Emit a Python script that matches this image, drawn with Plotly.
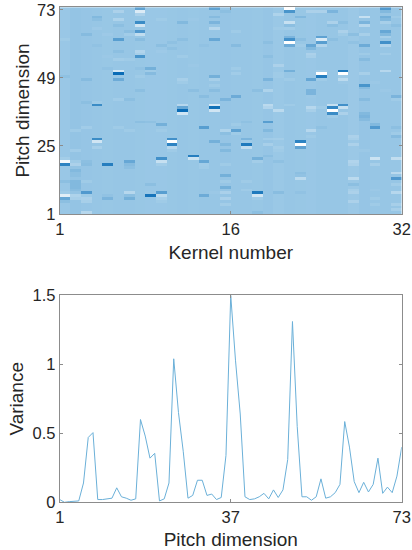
import plotly.graph_objects as go

pitch_ticks = [1, 25, 49, 73]
kernel_tick_edges = [0, 16, 32]
kernel_tick_labels = ["1", "16", "32"]
variance_pitch_ticks = [1, 37, 73]
variance_ticks = [0, 0.5, 1, 1.5]
variance_tick_labels = ["0", "0.5", "1", "1.5"]

variance = [0.02, 0.0, 0.005, 0.005, 0.01, 0.14, 0.47, 0.505, 0.02, 0.02, 0.025, 0.03, 0.105,
            0.04, 0.03, 0.015, 0.025, 0.60, 0.48, 0.32, 0.355, 0.01, 0.025, 0.14, 1.04, 0.65,
            0.37, 0.03, 0.05, 0.16, 0.16, 0.05, 0.06, 0.02, 0.035, 0.34, 1.5, 1.03, 0.64, 0.04,
            0.02, 0.025, 0.04, 0.065, 0.025, 0.09, 0.035, 0.09, 0.31, 1.31, 0.55, 0.04, 0.04,
            0.015, 0.04, 0.17, 0.03, 0.04, 0.07, 0.13, 0.585, 0.40, 0.15, 0.07, 0.145, 0.075,
            0.13, 0.32, 0.065, 0.11, 0.07, 0.19, 0.40]

# per-kernel level of most cells: negative is darker blue, positive paler
kernel_levels = [0.02, -0.02, -0.01, 0.0, 0.01, 0.0, 0.0, 0.01, 0.02, 0.02, 0.01, 0.0, 0.01, 0.0, 0.0, -0.01,
                 0.0, 0.0, 0.01, -0.01, 0.03, 0.0, 0.01, 0.02, 0.0, 0.0, 0.0, 0.04, -0.01, 0.0, 0.0, 0.0]

# {pitch: value} for each kernel, wherever a cell differs visibly from the level
kernel_01 = {19: 0.9, 18: -0.75, 20: 0.12, 7: 0.7, 6: -0.35, 8: 0.08, 5: -0.08, 12: -0.08, 49: -0.06, 62: 0.08}
kernel_02 = {18: 0.2, 19: 0.08, 16: -0.15, 15: -0.08, 14: -0.08, 12: -0.15, 11: -0.15, 10: -0.15, 9: -0.1, 7: 0.22, 6: 0.15, 23: 0.1, 30: 0.08}
kernel_03 = {8: -0.5, 7: 0.08, 6: 0.2, 5: 0.15, 1: 0.3, 18: -0.1, 19: -0.08, 64: -0.12, 31: 0.1, 12: 0.08, 48: -0.12, 40: -0.08}
kernel_04 = {39: -0.65, 27: -0.65, 26: 0.55, 24: 0.15, 70: -0.15, 69: -0.08, 66: 0.06, 60: -0.04, 40: 0.08}
kernel_05 = {18: -0.8, 6: -0.2, 7: -0.04, 64: 0.06, 52: -0.04, 56: 0.04}
kernel_06 = {72: 0.2, 69: 0.22, 67: -0.08, 62: -0.45, 58: -0.08, 51: 0.6, 50: -1.0, 48: -0.3, 55: 0.12, 41: 0.1, 31: 0.08}
kernel_07 = {19: -0.35, 18: -0.12, 17: -0.08, 8: 0.3, 7: -0.08, 6: -0.25, 64: 0.1, 65: -0.08, 55: 0.08, 30: 0.08, 41: -0.08}
kernel_08 = {73: -0.4, 72: 0.65, 71: 0.2, 68: -0.65, 67: 0.55, 65: -0.5, 64: 0.4, 62: -0.1, 58: 0.25, 57: 0.15, 56: -0.55, 52: -0.04, 49: 0.08, 44: -0.08, 33: -0.08}
kernel_09 = {52: -0.25, 51: 0.08, 50: -0.12, 7: -0.9, 8: 0.04, 33: -0.06, 11: -0.08}
kernel_10 = {32: -0.25, 30: 0.08, 20: -0.6, 19: 0.45, 18: 0.12, 8: -0.45, 7: 0.35, 6: 0.15, 5: 0.08, 60: -0.08, 58: 0.06, 69: 0.08}
kernel_11 = {27: -0.6, 26: 0.98, 25: -0.75, 24: 0.3, 23: 0.08, 61: -0.06, 59: -0.06}
kernel_12 = {68: -0.15, 62: -0.08, 48: 0.15, 47: 0.08, 39: 0.3, 38: -0.35, 37: -1.0, 36: 0.55, 56: 0.08}
kernel_13 = {21: -0.8, 20: 0.5, 44: -0.08, 53: 0.04, 69: 0.04}
kernel_14 = {31: -0.45, 19: -0.35, 18: 0.1, 17: 0.08, 7: -0.3, 42: -0.1, 60: -0.04}
kernel_15 = {73: -0.4, 70: -0.12, 68: -0.2, 66: 0.3, 62: -0.35, 49: -0.25, 48: 0.15, 46: 0.08, 44: -0.1, 39: 0.6, 38: -0.95, 37: 0.55, 26: -0.25, 8: 0.04}
kernel_16 = {41: -0.2, 72: -0.08, 30: 0.22, 29: -0.08, 25: -0.15, 23: -0.15, 18: 0.08, 14: -0.25, 12: 0.08, 10: -0.25, 8: 0.18, 6: 0.18, 4: 0.12}
kernel_17 = {42: -0.3, 30: -0.4, 29: 0.08, 32: 0.08, 65: 0.08, 60: -0.12, 52: 0.08, 50: 0.1}
kernel_18 = {25: -0.85, 24: 0.4, 27: -0.2, 26: 0.08, 33: -0.06, 12: 0.08, 9: 0.08}
kernel_19 = {20: -0.25, 19: 0.12, 8: -0.85, 7: 0.55, 6: 0.08, 44: -0.08, 1: -0.08}
kernel_20 = {33: -0.45, 30: -0.15, 27: 0.1, 25: 0.15, 21: -0.08, 48: -0.2, 44: 0.22, 56: -0.08, 39: 0.35, 38: 0.25, 61: -0.08}
kernel_21 = {71: 0.22, 37: 0.35, 27: 0.12, 24: 0.12, 23: 0.08, 53: 0.2, 50: 0.08, 49: 0.08, 66: 0.08, 19: -0.06, 8: -0.1}
kernel_22 = {73: 1.0, 72: -0.55, 68: 0.45, 67: -0.08, 66: 0.1, 63: -0.2, 62: -0.6, 61: 1.0, 60: -0.3, 51: -0.25, 48: 0.08, 39: 0.08}
kernel_23 = {70: -0.15, 26: -0.75, 25: 1.0, 24: -0.4, 15: -0.08, 14: -0.04, 13: 0.35, 8: -0.04, 62: -0.08, 60: 0.08}
kernel_24 = {72: 0.2, 60: -0.35, 59: -0.15, 57: 0.2, 56: 0.15, 48: -0.35, 44: -0.2, 43: -0.2, 42: 0.04, 38: 0.3, 37: 0.15, 30: 0.3, 28: 0.08}
kernel_25 = {72: 0.2, 63: -0.4, 62: 0.65, 61: -0.45, 60: 0.25, 51: 0.08, 50: 1.0, 49: -0.8, 48: 0.08, 38: 0.08, 31: -0.06}
kernel_26 = {72: -0.2, 68: 0.2, 67: -0.08, 39: 0.45, 38: -0.7, 37: 1.0, 36: -0.65, 35: 0.08, 62: -0.08}
kernel_27 = {65: 0.2, 64: 0.08, 51: -0.85, 50: 1.0, 49: 0.08, 48: 0.35, 47: 0.04, 39: -0.6, 38: 0.45, 36: 0.2, 68: -0.08}
kernel_28 = {28: 0.2, 27: 0.15, 25: 0.2, 19: 0.25, 18: 0.2, 13: 0.35, 11: -0.08, 9: 0.15, 8: 0.2, 5: 0.2, 64: -0.08, 61: -0.04}
kernel_29 = {70: 0.45, 68: -0.2, 67: 0.3, 64: 0.15, 60: -0.3, 57: 0.08, 55: -0.12, 50: 0.15, 46: -0.55, 45: -0.12, 41: -0.12, 36: -0.15, 35: -0.2, 34: -0.12, 23: 0.04}
kernel_30 = {31: -0.5, 32: -0.15, 20: 0.5, 18: 0.15, 6: 0.08, 4: 0.08, 47: 0.04, 9: 0.04}
kernel_31 = {73: -0.5, 72: -0.15, 70: -0.25, 69: -0.15, 68: 0.15, 65: -0.35, 64: -0.15, 63: 0.15, 61: -0.6, 60: 0.25, 51: 0.3, 57: 0.1, 44: 0.04}
kernel_32 = {70: 0.08, 67: -0.08, 42: -0.2, 41: 0.08, 29: 0.08, 28: -0.12, 20: 0.4, 15: 0.35, 13: -0.5, 11: 0.12, 8: 0.3, 4: 0.15, 2: 0.15, 31: -0.08}

kernels = [kernel_01, kernel_02, kernel_03, kernel_04, kernel_05, kernel_06, kernel_07, kernel_08,
           kernel_09, kernel_10, kernel_11, kernel_12, kernel_13, kernel_14, kernel_15, kernel_16,
           kernel_17, kernel_18, kernel_19, kernel_20, kernel_21, kernel_22, kernel_23, kernel_24,
           kernel_25, kernel_26, kernel_27, kernel_28, kernel_29, kernel_30, kernel_31, kernel_32]

z = [[kernels[c].get(p, kernel_levels[c]) for c in range(32)] for p in range(1, 74)]
x_centers = [c + 0.5 for c in range(32)]
y_centers = [p + 0.5 for p in range(1, 74)]

FONT = "Liberation Sans"
TEXT = "#262626"
AXIS = "#8c8c8c"

fig = go.Figure()
fig.add_trace(go.Heatmap(
    x=x_centers, y=y_centers, z=z, zmin=-1, zmax=1, showscale=False, hoverinfo="skip",
    colorscale=[[0, "#0a6cb6"], [0.5, "#97c6e5"], [1, "#ffffff"]], xaxis="x", yaxis="y"))
fig.add_trace(go.Scatter(
    x=list(range(1, 74)), y=variance, mode="lines", hoverinfo="skip",
    line=dict(color="#6bb0d8", width=1), xaxis="x2", yaxis="y2"))

common = dict(showgrid=False, zeroline=False, showline=True, linecolor=AXIS, linewidth=1,
              mirror="allticks", ticks="inside", ticklen=3, tickcolor=AXIS, tickwidth=1,
              tickfont=dict(family=FONT, size=16.5, color=TEXT), automargin=False)
title_font = dict(family=FONT, size=19, color=TEXT)

fig.update_layout(
    width=412, height=550, autosize=False, margin=dict(l=0, r=0, t=0, b=0),
    paper_bgcolor="white", plot_bgcolor="white", showlegend=False,
    xaxis=dict(domain=[0.145, 0.975], range=[0, 32], tickmode="array",
               tickvals=kernel_tick_edges, ticktext=kernel_tick_labels,
               title=dict(text="Kernel number", font=title_font, standoff=8), **common),
    yaxis=dict(domain=[0.611, 0.987], range=[1, 74], tickmode="array", tickvals=pitch_ticks,
               title=dict(text="Pitch dimension", font=title_font, standoff=2), **common),
    xaxis2=dict(domain=[0.145, 0.975], range=[1, 73], anchor="y2", tickmode="array",
                tickvals=variance_pitch_ticks,
                title=dict(text="Pitch dimension", font=title_font, standoff=8), **common),
    yaxis2=dict(domain=[0.0867, 0.4631], range=[0, 1.5], anchor="x2", tickmode="array",
                tickvals=variance_ticks, ticktext=variance_tick_labels,
                title=dict(text="Variance", font=title_font, standoff=3), **common),
)
fig.write_html("out.html", config={"displayModeBar": False},
               post_script="document.body.style.margin='0';document.body.style.overflow='hidden';")
